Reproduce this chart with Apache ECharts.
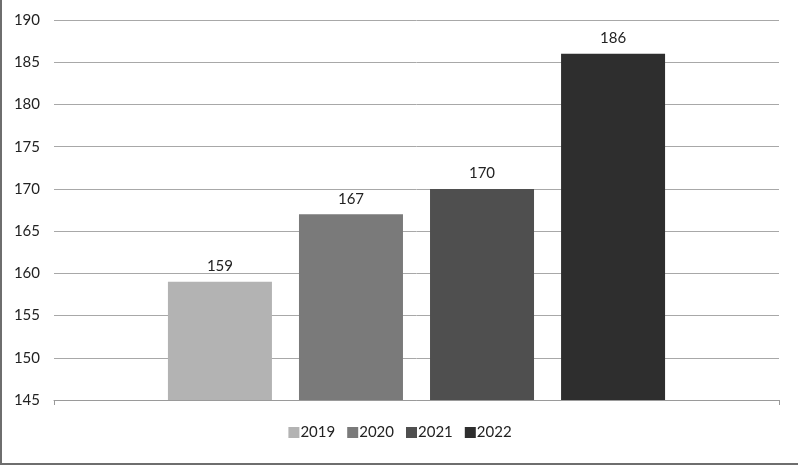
<!DOCTYPE html>
<html>
<head>
<meta charset="utf-8">
<script src="https://cdn.jsdelivr.net/npm/echarts@6/dist/echarts.min.js"></script>
<style>
  html, body { margin: 0; padding: 0; background: #fff; }
  #chart {
    width: 796px;
    height: 463px;
    border-left: 2px solid #6e6e6e;
    border-bottom: 2px solid #6e6e6e;
  }
</style>
</head>
<body>
<div id="chart"></div>
<script>
const years = ['2019', '2020', '2021', '2022']
const values = [159, 167, 170, 186]
const colors = ['#b3b3b3', '#7a7a7a', '#4f4f4f', '#2e2e2e']
const yTicks = { min: 145, max: 190, interval: 5 }

const chart = echarts.init(document.getElementById('chart'))

const series = years.map((y, i) => ({
  name: y,
  type: 'bar',
  data: [values[i]],
  barWidth: 104,
  barGap: '26%',
  itemStyle: { color: colors[i] },
  label: {
    show: true,
    position: 'top',
    distance: 8,
    color: '#222',
    fontSize: 15,
    fontFamily: 'Lato'
  }
}))

chart.setOption({
  animation: false,
  textStyle: { fontFamily: 'Lato' },
  grid: { left: 52, right: 19, top: 20, bottom: 63 },
  legend: {
    data: years,
    bottom: 18,
    left: 'center',
    itemWidth: 11,
    itemHeight: 11,
    itemGap: 12,
    icon: 'rect',
    textStyle: { fontSize: 15, color: '#222', padding: [0, 0, 0, -4] }
  },
  xAxis: {
    type: 'category',
    data: [''],
    axisLine: { lineStyle: { color: '#9a9a9a', width: 1 } },
    axisTick: { show: true, length: 5, lineStyle: { color: '#9a9a9a' } },
    axisLabel: { show: false }
  },
  yAxis: {
    type: 'value',
    min: yTicks.min,
    max: yTicks.max,
    interval: yTicks.interval,
    axisLine: { show: false },
    axisTick: { show: false },
    axisLabel: { color: '#222', fontSize: 15, margin: 14 },
    splitLine: { lineStyle: { color: '#a8a8a8', width: 1 } }
  },
  series: series
})
</script>
</body>
</html>
